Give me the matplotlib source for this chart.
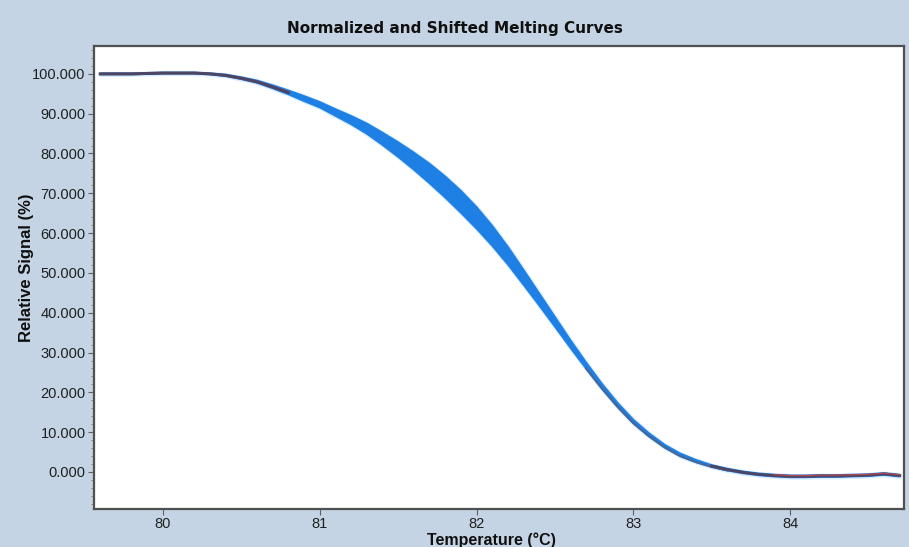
import numpy as np
import matplotlib
matplotlib.use("Agg")
import matplotlib.pyplot as plt
from matplotlib.ticker import MultipleLocator, FormatStrFormatter

# Temperature grid (°C)
temps = [79.6, 79.7, 79.8, 79.9, 80.0, 80.1, 80.2, 80.3, 80.4, 80.5,
         80.6, 80.7, 80.8, 80.9, 81.0, 81.1, 81.2, 81.3, 81.4, 81.5,
         81.6, 81.7, 81.8, 81.9, 82.0, 82.1, 82.2, 82.3, 82.4, 82.5,
         82.6, 82.7, 82.8, 82.9, 83.0, 83.1, 83.2, 83.3, 83.4, 83.5,
         83.6, 83.7, 83.8, 83.9, 84.0, 84.1, 84.2, 84.3, 84.4, 84.5,
         84.6, 84.7]
# Normalized signal (%) - central trace of the replicate bundle
signal_mid = [100.0, 100.0, 100.0, 100.1, 100.2, 100.2, 100.2, 100.0, 99.6, 98.9,
              98.0, 96.7, 95.3, 93.8, 92.2, 90.3, 88.4, 86.2, 83.7, 81.0,
              78.1, 75.0, 71.6, 67.9, 63.8, 59.3, 54.3, 48.9, 43.3, 37.7,
              32.1, 26.7, 21.5, 16.8, 12.7, 9.3, 6.5, 4.3, 2.7, 1.5,
              0.6, -0.1, -0.6, -0.9, -1.1, -1.1, -1.0, -1.0, -0.9, -0.8,
              -0.5, -0.9]
# Upper edge of the bundle
signal_hi = [100.1, 100.1, 100.1, 100.2, 100.3, 100.3, 100.3, 100.1, 99.8, 99.1,
             98.3, 97.1, 95.8, 94.4, 92.9, 91.1, 89.4, 87.5, 85.2, 82.8,
             80.2, 77.4, 74.2, 70.6, 66.5, 61.8, 56.5, 50.7, 44.8, 38.9,
             33.0, 27.4, 22.1, 17.3, 13.1, 9.7, 6.8, 4.6, 3.0, 1.7,
             0.8, 0.1, -0.4, -0.7, -0.9, -0.9, -0.8, -0.8, -0.7, -0.6,
             -0.3, -0.7]
# Lower edge of the bundle
signal_lo = [99.9, 99.9, 99.9, 100.0, 100.1, 100.1, 100.1, 99.9, 99.5, 98.7,
             97.8, 96.4, 94.9, 93.2, 91.6, 89.5, 87.4, 85.0, 82.2, 79.2,
             76.0, 72.6, 69.0, 65.2, 61.2, 56.9, 52.2, 47.1, 41.9, 36.6,
             31.2, 26.0, 21.0, 16.4, 12.3, 9.0, 6.2, 4.0, 2.5, 1.3,
             0.4, -0.3, -0.8, -1.1, -1.3, -1.3, -1.2, -1.2, -1.1, -1.0,
             -0.7, -1.1]

x_ticks = [80, 81, 82, 83, 84]
title = "Normalized and Shifted Melting Curves"
x_label = "Temperature (°C)"
y_label = "Relative Signal (%)"

bg = "#c4d4e4"
blue = "#1e80e4"
dark = "#4f4462"
steel = "#44679e"
red = "#b5474f"

fig = plt.figure(figsize=(9.09, 5.47), dpi=100, facecolor=bg)
ax = fig.add_axes([94 / 909, 1 - 509 / 547, (904 - 94) / 909, (509 - 46) / 547])
ax.set_facecolor("white")

t = np.array(temps)
mid = np.array(signal_mid)
hi = np.array(signal_hi)
lo = np.array(signal_lo)

# soft halo around the bundle
ax.fill_between(t, lo, hi, color="#9fd0ff", lw=3.0, edgecolor="#c6e5ff",
                zorder=1, alpha=0.7)
ax.fill_between(t, lo, hi, color=blue, lw=0, zorder=2)
ax.plot(t, hi, color=blue, lw=1.5, zorder=3, solid_capstyle="butt")
ax.plot(t, lo, color=blue, lw=1.5, zorder=3, solid_capstyle="butt")

# darker traces along the plateau and the low-temperature tail
ax.plot(t, np.where(t <= 80.8, mid, np.nan), color=dark, lw=2.2, zorder=4)
ax.plot(t, np.where((t >= 82.7) & (t <= 83.6), lo, np.nan), color=steel,
        lw=1.6, zorder=4)
ax.plot(t, np.where(t >= 83.5, mid, np.nan), color=dark, lw=2.0, zorder=4)
ax.plot(t, np.where(t >= 83.9, hi, np.nan), color=red, lw=0.9, zorder=5)

ax.set_xlim(79.56, 84.727)
ax.set_ylim(-9.3, 107.0)
ax.set_xticks(x_ticks)
ax.xaxis.set_major_formatter(FormatStrFormatter("%d"))
ax.yaxis.set_major_locator(MultipleLocator(10))
ax.yaxis.set_minor_locator(MultipleLocator(2))
ax.yaxis.set_major_formatter(FormatStrFormatter("%.3f"))

font = "Liberation Sans"
ax.tick_params(axis="both", which="major", direction="out", length=4,
               width=0.8, color="#606060", labelsize=10.5, pad=2)
ax.tick_params(axis="x", which="major", pad=1.5)
ax.tick_params(axis="y", which="minor", direction="out", length=2,
               width=0.6, color="#808080")
for lbl in ax.get_xticklabels() + ax.get_yticklabels():
    lbl.set_fontfamily(font)
    lbl.set_color("#202020")

for s in ax.spines.values():
    s.set_color("#505050")
    s.set_linewidth(1.6)

fig.text(0.5, 1 - 28 / 547, title, ha="center", va="center",
         fontsize=11, fontweight="bold", family="DejaVu Sans", color="#101010")
fig.text(491 / 909, 1 - 540 / 547, x_label, ha="center", va="center",
         fontsize=11.5, fontweight="bold", family=font, color="#101010")
fig.text(26 / 909, 1 - 268 / 547, y_label, ha="center", va="center",
         rotation=90, fontsize=12, fontweight="bold", family=font,
         color="#101010")

fig.savefig("out.png", dpi=100, facecolor=bg)
